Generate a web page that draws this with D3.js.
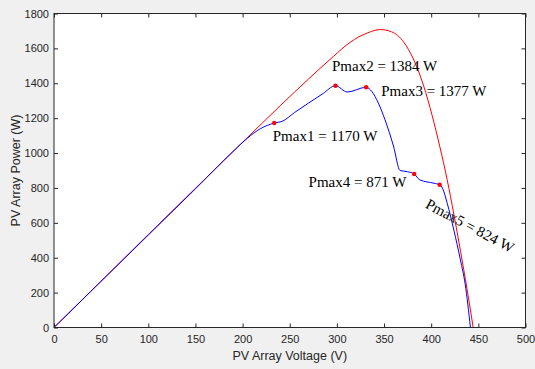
<!DOCTYPE html>
<html>
<head>
<meta charset="utf-8">
<script src="https://cdn.jsdelivr.net/npm/d3@7"></script>
<style>
  html, body { margin: 0; padding: 0; background: #f0f0f0; }
  svg { display: block; }
  .tick text { font-family: "Liberation Sans", Arial, sans-serif; font-size: 11px; fill: #262626; }
  .tick line { stroke: #262626; }
  .note { font-family: "Liberation Serif", "Times New Roman", serif; font-size: 15px; fill: #000; }
  .title { font-family: "Liberation Sans", Arial, sans-serif; font-size: 12.5px; fill: #262626; }
</style>
</head>
<body>
<script>
// uniform irradiance (red)
const uniformV = [0, 100, 150, 200, 240, 270, 296.5, 314, 332, 346, 358, 371, 381, 392, 401, 409, 417, 424, 431, 438, 444.5];
const uniformP = [0, 533, 798, 1062, 1272, 1425, 1555, 1635, 1688, 1708, 1695, 1635, 1540, 1385, 1215, 1040, 845, 650, 440, 220, 0];

// partial shading (blue)
const shadedV = [0, 100, 150, 190, 205, 219, 233.5, 242, 255, 270, 285, 298.5, 311, 331, 337, 344, 351, 360, 367, 375, 382, 388, 403, 409, 412, 417, 424, 431, 436, 441.6];
const shadedP = [0, 530, 795, 1010, 1085, 1140, 1172, 1182, 1232, 1287, 1340, 1386, 1350, 1377, 1353, 1286, 1191, 1040, 900, 893, 880, 846, 827, 818, 798, 712, 559, 387, 250, 0];

// local maxima
const peakV = [233.5, 298.5, 331, 382, 409];
const peakP = [1172, 1386, 1377, 880, 818];
const peakNames = ["Pmax1", "Pmax2", "Pmax3", "Pmax4", "Pmax5"];
const peakLabels = [1170, 1384, 1377, 871, 824];

const xTicks = d3.range(0, 501, 50);
const yTicks = d3.range(0, 1801, 200);

const width = 535, height = 369;
const margin = { top: 13.5, right: 9.5, bottom: 41.5, left: 54 };
const iw = width - margin.left - margin.right;
const ih = height - margin.top - margin.bottom;

const svg = d3.select('body').append('svg')
    .attr('width', width)
    .attr('height', height);

const g = svg.append('g')
    .attr('transform', `translate(${margin.left},${margin.top})`);

const x = d3.scaleLinear().domain([0, 500]).range([0, iw]);
const y = d3.scaleLinear().domain([0, 1800]).range([ih, 0]);

g.append('rect')
    .attr('width', iw)
    .attr('height', ih)
    .attr('fill', '#fff');

const line = d3.line()
    .x(d => x(d[0]))
    .y(d => y(d[1]))
    .curve(d3.curveMonotoneX);

g.append('path')
    .datum(d3.zip(uniformV, uniformP))
    .attr('d', line)
    .attr('fill', 'none')
    .attr('stroke', '#ff0000')
    .attr('stroke-width', 1);

g.append('path')
    .datum(d3.zip(shadedV, shadedP))
    .attr('d', line)
    .attr('fill', 'none')
    .attr('stroke', '#0000ff')
    .attr('stroke-width', 1);

g.selectAll('circle.peak')
    .data(d3.zip(peakV, peakP))
    .enter()
    .append('circle')
    .attr('class', 'peak')
    .attr('cx', d => x(d[0]))
    .attr('cy', d => y(d[1]))
    .attr('r', 2.2)
    .attr('fill', '#ff0000');

// annotation anchors in data units, like MATLAB text(x, y, ...)
const notes = [
    { v: 232, p: 1070, rot: 0 },
    { v: 294.8, p: 1468, rot: 0 },
    { v: 347, p: 1329, rot: 0 },
    { v: 270, p: 804, rot: 0 },
    { v: 392.8, p: 689, rot: 28 }
];

notes.forEach((n, i) => {
    g.append('text')
        .attr('class', 'note')
        .attr('transform', `translate(${x(n.v)},${y(n.p)}) rotate(${n.rot})`)
        .text(`${peakNames[i]} = ${peakLabels[i]} W`);
});

// axes, ticks pointing inward
g.append('g')
    .attr('transform', `translate(0,${ih})`)
    .call(d3.axisBottom(x).tickValues(xTicks).tickFormat(d3.format('d')).tickSizeInner(-4).tickSizeOuter(0).tickPadding(8))
    .call(a => a.select('.domain').remove());

g.append('g')
    .call(d3.axisLeft(y).tickValues(yTicks).tickFormat(d3.format('d')).tickSizeInner(-4).tickSizeOuter(0).tickPadding(5))
    .call(a => a.select('.domain').remove());

g.append('g')
    .call(d3.axisTop(x).tickValues(xTicks).tickSizeInner(-4).tickSizeOuter(0).tickFormat(''))
    .call(a => a.select('.domain').remove());

g.append('g')
    .attr('transform', `translate(${iw},0)`)
    .call(d3.axisRight(y).tickValues(yTicks).tickSizeInner(-4).tickSizeOuter(0).tickFormat(''))
    .call(a => a.select('.domain').remove());

g.append('rect')
    .attr('width', iw)
    .attr('height', ih)
    .attr('fill', 'none')
    .attr('stroke', '#262626')
    .attr('stroke-width', 1);

svg.append('text')
    .attr('class', 'title')
    .attr('x', margin.left + iw / 2)
    .attr('y', 360)
    .attr('text-anchor', 'middle')
    .text('PV Array Voltage (V)');

svg.append('text')
    .attr('class', 'title')
    .attr('transform', `translate(20,${margin.top + ih / 2}) rotate(-90)`)
    .attr('text-anchor', 'middle')
    .text('PV Array Power (W)');
</script>
</body>
</html>
